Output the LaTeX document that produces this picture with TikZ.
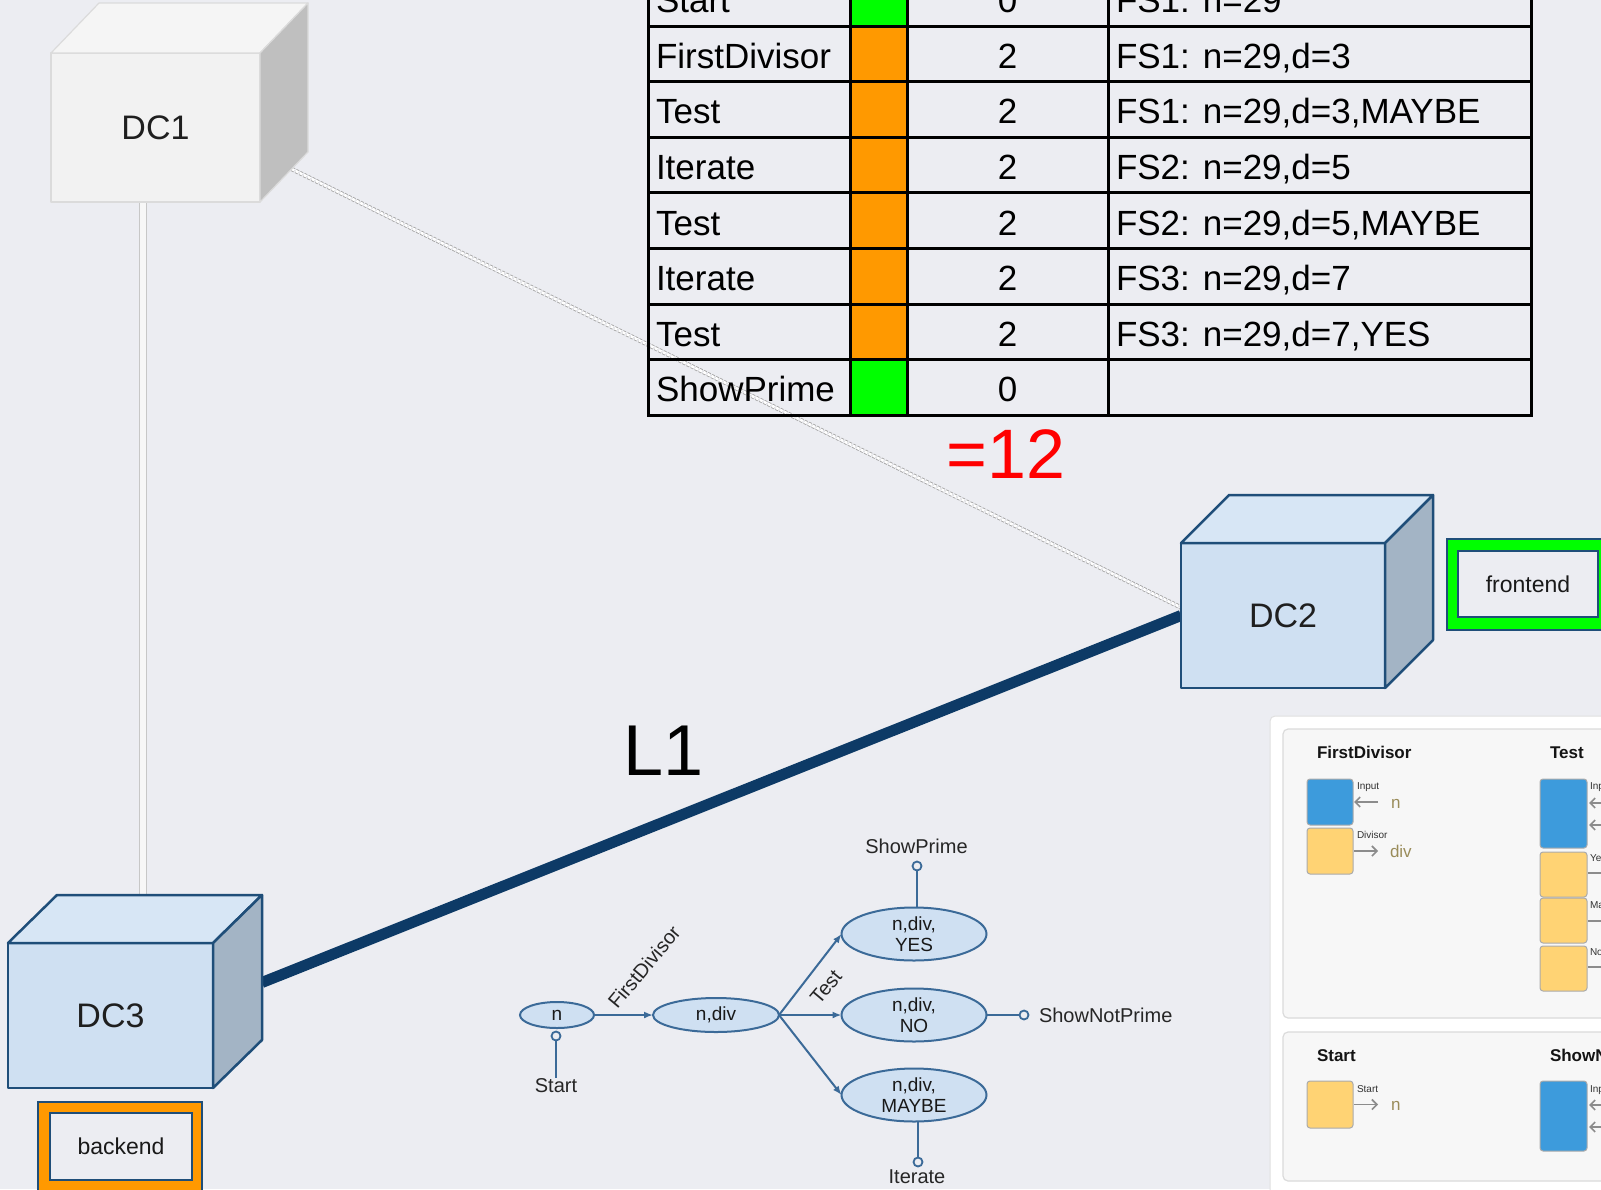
\documentclass[tikz,border=0pt]{standalone}
\usepackage{fontspec}
\setmainfont{Liberation Sans}
\usetikzlibrary{shapes.geometric,arrows.meta,calc}
\pgfdeclarelayer{bg}
\pgfdeclarelayer{links}
\pgfsetlayers{bg,links,main}

\definecolor{bgc}{HTML}{ECEDF2}
\definecolor{cubeline}{HTML}{1F4E79}
\definecolor{cubefront}{HTML}{CFE0F2}
\definecolor{cubetopc}{HTML}{D7E6F5}
\definecolor{cubesidec}{HTML}{A3B4C5}
\definecolor{linkblue}{HTML}{0D3A66}
\definecolor{ellfill}{HTML}{CFE0F2}
\definecolor{ellline}{HTML}{3B6A98}
\definecolor{okgreen}{HTML}{00FF00}
\definecolor{busyorange}{HTML}{FF9900}
\definecolor{portblue}{HTML}{3D9BDC}
\definecolor{portyellow}{HTML}{FFD374}
\definecolor{valtan}{HTML}{9A8C5A}

\tikzset{
  fpx/.style={font=\fontsize{#1}{#1}\selectfont},
  % data-centre cubes
  cubeblue/.style={draw=cubeline, line width=2.5pt, fill=cubefront, line join=round, text=black!88, fpx=34},
  cubebluetop/.style={draw=cubeline, line width=2.5pt, fill=cubetopc, line join=round},
  cubeblueside/.style={draw=cubeline, line width=2.5pt, fill=cubesidec, line join=round},
  cubegrey/.style={draw=black!14, line width=1.2pt, fill=black!5, line join=round, text=black!88, fpx=34},
  cubegreytop/.style={draw=black!14, line width=1.2pt, fill=black!4, line join=round},
  cubegreyside/.style={draw=black!14, line width=1.2pt, fill=black!25, line join=round},
  % links between data centres
  maglink/.style={draw=linkblue, line width=11pt},
  dblink/.style={draw=black!22, line width=1.2pt, double=black!3, double distance=6pt},
  dashlink/.style={draw=black!35, line width=0.9pt, double=white, double distance=2.6pt, dash pattern=on 3pt off 1.5pt},
  % role tags
  tagouter/.style={draw=cubeline, line width=1.5pt},
  taginner/.style={draw=cubeline, line width=1.5pt, fill=bgc, fpx=23, text=black!90},
  % trace table
  tabtext/.style={fpx=35, anchor=base west},
  tabnum/.style={fpx=35, anchor=base},
  % state graph
  gstate/.style={ellipse, draw=ellline, line width=2pt, fill=ellfill, align=center, font=\fontsize{19}{21}\selectfont, text=black!90},
  gflow/.style={draw=ellline, line width=2pt, -{Latex[length=9pt,width=7pt]}},
  gpin/.style={circle, draw=ellline, line width=1.8pt, fill=bgc, minimum size=9pt},
  gwire/.style={draw=ellline, line width=2pt},
  glabel/.style={fpx=20, text=black!85},
  % function panel
  panel/.style={draw=black!12, line width=1pt, fill=white, rounded corners=5pt},
  card/.style={draw=black!14, line width=1.2pt, fill=black!3, rounded corners=5pt},
  port/.style={draw=black!33, line width=1pt, rounded corners=3pt},
  portarrow/.style={draw=black!45, line width=1.6pt, -{Straight Barb[length=5pt,width=10pt]}},
  cardtitle/.style={font=\bfseries\fontsize{17}{17}\selectfont, anchor=base west, text=black!92},
  portname/.style={fpx=10, anchor=base west, text=black!80},
  portval/.style={fpx=17, anchor=base west, text=valtan},
}

\begin{document}
\begin{tikzpicture}[x=1pt, y=-1pt, every node/.style={inner sep=0pt, outer sep=0pt}]

\begin{pgfonlayer}{bg}
  \fill[bgc] (0,0) rectangle (1601,1189);
\end{pgfonlayer}
\useasboundingbox (0,0) rectangle (1601,1189);
\clip (0,0) rectangle (1601,1189);

% ---------- data centres ----------
\node[cubegrey, minimum width=209pt, minimum height=149pt] (dc1) at (155.5,127.5) {DC1};
\filldraw[cubegreytop] (dc1.north west) -- ++(48,-50) -- ++(209,0) -- (dc1.north east) -- cycle;
\filldraw[cubegreyside] (dc1.north east) -- ++(48,-50) -- ++(0,149) -- (dc1.south east) -- cycle;

\node[cubeblue, minimum width=204pt, minimum height=145pt] (dc2) at (1283,615.5) {DC2};
\filldraw[cubebluetop] (dc2.north west) -- ++(48,-48) -- ++(204,0) -- (dc2.north east) -- cycle;
\filldraw[cubeblueside] (dc2.north east) -- ++(48,-48) -- ++(0,145) -- (dc2.south east) -- cycle;

\node[cubeblue, minimum width=205pt, minimum height=145pt] (dc3) at (110.5,1015.5) {DC3};
\filldraw[cubebluetop] (dc3.north west) -- ++(49,-48) -- ++(205,0) -- (dc3.north east) -- cycle;
\filldraw[cubeblueside] (dc3.north east) -- ++(49,-48) -- ++(0,145) -- (dc3.south east) -- cycle;

\coordinate (dc3tb) at ([shift={(49,-48)}]dc3.north west);
\coordinate (dc3port) at ([shift={(49,-33)}]dc3.east);
\coordinate (dc1edge) at ($(dc1.south east)!0.66!([shift={(48,-50)}]dc1.south east)$);
\coordinate (dcdrop) at ([shift={(-12.5,0)}]dc1.south);

\begin{pgfonlayer}{links}
  \draw[dblink] (dcdrop) -- (dcdrop |- dc3tb);
  \draw[dashlink] (dc1edge) -- ([shift={(0,-8)}]dc2.west);
  \draw[maglink] (dc3port) -- (dc2.west);
\end{pgfonlayer}

\node[fpx=72, anchor=base] (l1) at (664,775) {L1};

% ---------- role tags ----------
\node[tagouter, fill=okgreen, minimum width=162pt, minimum height=91pt] (fe-ring) at (1528,584.5) {};
\node[taginner, minimum width=140pt, minimum height=66pt] (frontend) at (1528,584) {frontend};
\node[tagouter, fill=busyorange, minimum width=164pt, minimum height=90pt] (be-ring) at (120,1147) {};
\node[taginner, minimum width=142pt, minimum height=67pt] (backend) at (121,1146.5) {backend};

% ---------- trace table ----------
\foreach \nm/\clr/\cnt/\st [count=\i from 0] in {
    Start/okgreen/0/{FS1: n=29},
    FirstDivisor/busyorange/2/{FS1: n=29,d=3},
    Test/busyorange/2/{FS1: n=29,d=3,MAYBE},
    Iterate/busyorange/2/{FS2: n=29,d=5},
    Test/busyorange/2/{FS2: n=29,d=5,MAYBE},
    Iterate/busyorange/2/{FS3: n=29,d=7},
    Test/busyorange/2/{FS3: n=29,d=7,YES},
    ShowPrime/okgreen/0/{}}
{
  \pgfmathsetmacro\rt{-29.6+55.6*\i}
  \pgfmathsetmacro\rb{\rt+55.6}
  \pgfmathsetmacro\bl{\rt+42.3}
  \fill[\clr] (850.5,\rt) rectangle (907,\rb);
  \node[tabtext] (step-\i) at (656,\bl) {\nm};
  \node[tabnum] (load-\i) at (1007.5,\bl) {\cnt};
  \node[tabtext] (state-\i) at (1116,\bl) {\st};
}
\draw[line width=3pt] (648,-29.6) rectangle (1531,415.2);
\foreach \x in {850.5,907,1108} \draw[line width=3pt] (\x,-29.6) -- (\x,415.2);
\foreach \k in {0,...,6} \draw[line width=3pt] (648,{26+55.6*\k}) -- (1531,{26+55.6*\k});

\node[fpx=70, text=red, anchor=base] (total) at (1006,478) {=12};

% ---------- state graph ----------
\node[gstate, minimum width=74pt, minimum height=26pt] (s0) at (557,1015) {n};
\node[gstate, minimum width=126pt, minimum height=34pt] (s1) at (716,1015) {n,div};
\node[gstate, minimum width=145pt, minimum height=53pt] (syes) at (914,934) {n,div,\\YES};
\node[gstate, minimum width=145pt, minimum height=53pt] (sno) at (914,1015) {n,div,\\NO};
\node[gstate, minimum width=145pt, minimum height=53pt] (smaybe) at (914,1095) {n,div,\\MAYBE};

\draw[gflow] (s0) -- (s1);
\draw[gflow] (s1.east) -- (syes.west);
\draw[gflow] (s1.east) -- (sno.west);
\draw[gflow] (s1.east) -- (smaybe.west);
\node[glabel, rotate=50] (fdlabel) at (644,967) {FirstDivisor};
\node[glabel, rotate=50] (testlabel) at (826,987) {Test};

\node[gpin] (pstart) at (556,1036) {};
\node[glabel, anchor=base] (lstart) at (556,1092) {Start};
\draw[gwire] (pstart) -- (lstart);

\node[gpin] (pprime) at (917,866) {};
\node[glabel, anchor=base] (lprime) at (916.5,853) {ShowPrime};
\draw[gwire] (pprime) -- (pprime |- syes.north);

\node[gpin] (pnot) at (1024,1015) {};
\node[glabel, anchor=base west] (lnot) at (1039,1022) {ShowNotPrime};
\draw[gwire] (sno.east) -- (pnot);

\node[gpin] (pit) at (918,1162) {};
\node[glabel, anchor=base] (lit) at (917,1183) {Iterate};
\draw[gwire] (smaybe.south -| pit) -- (pit);

% ---------- function panel ----------
\draw[panel] (1270,716) rectangle (1660,1240);
\draw[card] (1283,729) rectangle (1660,1018);
\draw[card] (1283,1032) rectangle (1660,1181);

% FirstDivisor
\node[cardtitle] (t-fd) at (1317,758) {FirstDivisor};
\node[port, fill=portblue, minimum width=46pt, minimum height=46pt] (fd-in) at (1330,802) {};
\node[port, fill=portyellow, minimum width=46pt, minimum height=46pt] (fd-div) at (1330,851) {};
\node[portname] (fd-inname) at (1357,789) {Input};
\node[portname] (fd-divname) at (1357,838) {Divisor};
\draw[portarrow] ([shift={(25,0)}]fd-in.east) -- ([shift={(1,0)}]fd-in.east);
\draw[portarrow] ([shift={(1,0)}]fd-div.east) -- ([shift={(25,0)}]fd-div.east);
\node[portval] (fd-n) at (1391,808) {n};
\node[portval] (fd-d) at (1390,857) {div};

% Test
\node[cardtitle] (t-test) at (1550,758) {Test};
\node[port, fill=portblue, minimum width=47pt, minimum height=69pt] (ts-in) at (1563.5,813.5) {};
\node[port, fill=portyellow, minimum width=47pt, minimum height=45pt] (ts-yes) at (1563.5,874.5) {};
\node[port, fill=portyellow, minimum width=47pt, minimum height=45pt] (ts-maybe) at (1563.5,920.5) {};
\node[port, fill=portyellow, minimum width=47pt, minimum height=45pt] (ts-no) at (1563.5,968.5) {};
\node[portname] (ts-inname) at (1590,789) {Input};
\node[portname] (ts-yesname) at (1590,861) {Yes};
\node[portname] (ts-maybename) at (1590,908) {Maybe};
\node[portname] (ts-noname) at (1590,955) {No};
\draw[portarrow] ([shift={(27,-10.5)}]ts-in.east) -- ([shift={(2,-10.5)}]ts-in.east);
\draw[portarrow] ([shift={(27,11.5)}]ts-in.east) -- ([shift={(2,11.5)}]ts-in.east);
\draw[portarrow] ([shift={(1,-1.5)}]ts-yes.east) -- ([shift={(25,-1.5)}]ts-yes.east);
\draw[portarrow] ([shift={(1,0.5)}]ts-maybe.east) -- ([shift={(25,0.5)}]ts-maybe.east);
\draw[portarrow] ([shift={(1,-1.5)}]ts-no.east) -- ([shift={(25,-1.5)}]ts-no.east);

% Start
\node[cardtitle] (t-start) at (1317,1061) {Start};
\node[port, fill=portyellow, minimum width=46pt, minimum height=47pt] (st-out) at (1330,1104.5) {};
\node[portname] (st-outname) at (1357,1092) {Start};
\draw[portarrow] ([shift={(1,0)}]st-out.east) -- ([shift={(25,0)}]st-out.east);
\node[portval] (st-n) at (1391,1110) {n};

% ShowNotPrime
\node[cardtitle] (t-snp) at (1550,1061) {ShowNotPrime};
\node[port, fill=portblue, minimum width=47pt, minimum height=70pt] (snp-in) at (1563.5,1116) {};
\node[portname] (snp-inname) at (1590,1092) {Input};
\draw[portarrow] ([shift={(27,-11)}]snp-in.east) -- ([shift={(2,-11)}]snp-in.east);
\draw[portarrow] ([shift={(27,11)}]snp-in.east) -- ([shift={(2,11)}]snp-in.east);

\end{tikzpicture}
\end{document}
